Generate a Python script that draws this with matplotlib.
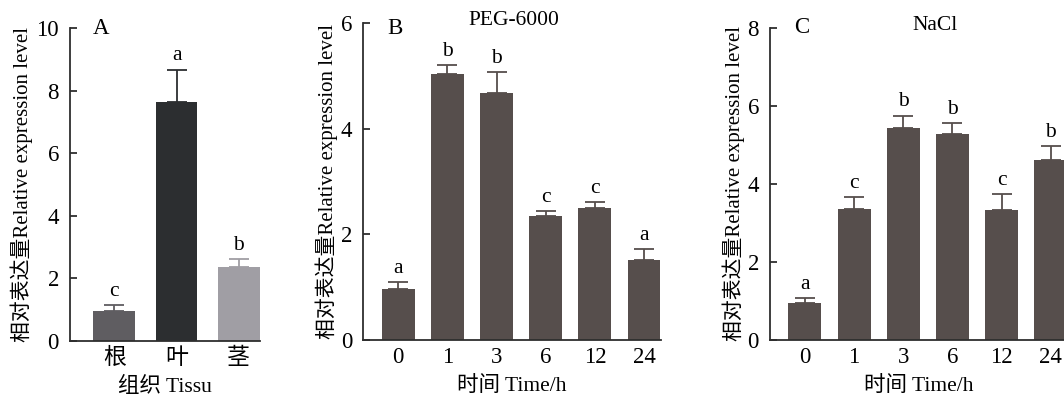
import matplotlib
matplotlib.use("Agg")
import matplotlib.pyplot as plt
import numpy as np

plt.rcParams['font.family'] = ['Liberation Serif', 'Noto Sans CJK SC']
plt.rcParams['font.size'] = 15

# panel A: tissues
tissues = ["根", "叶", "茎"]
tissue_means = [0.95, 7.63, 2.36]
tissue_errs = [0.19, 1.04, 0.24]
tissue_letters = ["c", "a", "b"]
tissue_colors = ["#5f5d61", "#2c2e30", "#a09ea4"]

# panel B / C: time course
times = ["0", "1", "3", "6", "12", "24"]
peg_means = [0.96, 5.03, 4.67, 2.34, 2.51, 1.52]
peg_errs = [0.13, 0.18, 0.41, 0.10, 0.10, 0.20]
peg_letters = ["a", "b", "b", "c", "c", "a"]
nacl_means = [0.94, 3.36, 5.44, 5.28, 3.34, 4.60]
nacl_errs = [0.14, 0.31, 0.31, 0.27, 0.39, 0.37]
nacl_letters = ["a", "c", "b", "b", "c", "b"]

bar_color = "#564e4c"
axis_color = "#2e2e2e"


def draw_panel(ax, labels, means, errs, letters, colors, ymax, step):
    x = np.arange(len(labels))
    ax.bar(x, means, width=0.67, color=colors, zorder=2)
    for xi, m, e, c in zip(x, means, errs, colors):
        ax.errorbar(xi, m, yerr=[[0], [e]], color=c, capsize=7,
                    elinewidth=1.3, capthick=1.3, zorder=1)
    for xi, m, e, t in zip(x, means, errs, letters):
        ax.annotate(t, (xi, m + e), xytext=(0, 3), textcoords="offset points",
                    ha="center", va="bottom", fontsize=15.5)
    ax.set_xlim(-0.71, len(labels) - 1 + 0.34)
    ax.set_ylim(0, ymax)
    ax.set_yticks(np.arange(0, ymax + 0.01, step))
    ax.set_xticks(x)
    ax.set_xticklabels(labels)
    ax.spines["top"].set_visible(False)
    ax.spines["right"].set_visible(False)
    for s in ["left", "bottom"]:
        ax.spines[s].set_color(axis_color)
        ax.spines[s].set_linewidth(1.3)
    ax.tick_params(axis="y", direction="in", length=5, width=1.3,
                   color=axis_color, pad=8, labelsize=16.5)
    ax.tick_params(axis="x", length=0, pad=5, labelsize=16.5)
    ax.set_ylabel("相对表达量Relative expression level", fontsize=15, labelpad=2)


fig = plt.figure(figsize=(10.64, 3.98), dpi=100)

axA = fig.add_axes([0.0658, 0.1440, 0.1786, 0.7856])
draw_panel(axA, tissues, tissue_means, tissue_errs, tissue_letters,
           tissue_colors, 10, 2)
axA.set_xlabel("组织 Tissu", fontsize=15.5, labelpad=6)
axA.text(0.12, 1.0, "A", transform=axA.transAxes, fontsize=16.5,
         ha="left", va="center")

axB = fig.add_axes([0.3415, 0.1457, 0.2795, 0.7958])
draw_panel(axB, times, peg_means, peg_errs, peg_letters,
           [bar_color] * len(times), 6, 2)
axB.set_xlabel("时间 Time/h", fontsize=15.5, labelpad=6)
axB.text(0.08, 0.985, "B", transform=axB.transAxes, fontsize=16.5,
         ha="left", va="center")
axB.text(2.35, 6.05, "PEG-6000", fontsize=15.5, ha="center", va="center")

axC = fig.add_axes([0.7237, 0.1457, 0.2796, 0.7847])
draw_panel(axC, times, nacl_means, nacl_errs, nacl_letters,
           [bar_color] * len(times), 8, 2)
axC.set_xlabel("时间 Time/h", fontsize=15.5, labelpad=6)
axC.text(0.08, 1.0, "C", transform=axC.transAxes, fontsize=16.5,
         ha="left", va="center")
axC.text(2.64, 8.06, "NaCl", fontsize=15.5, ha="center", va="center")

fig.savefig("out.png", dpi=100)
